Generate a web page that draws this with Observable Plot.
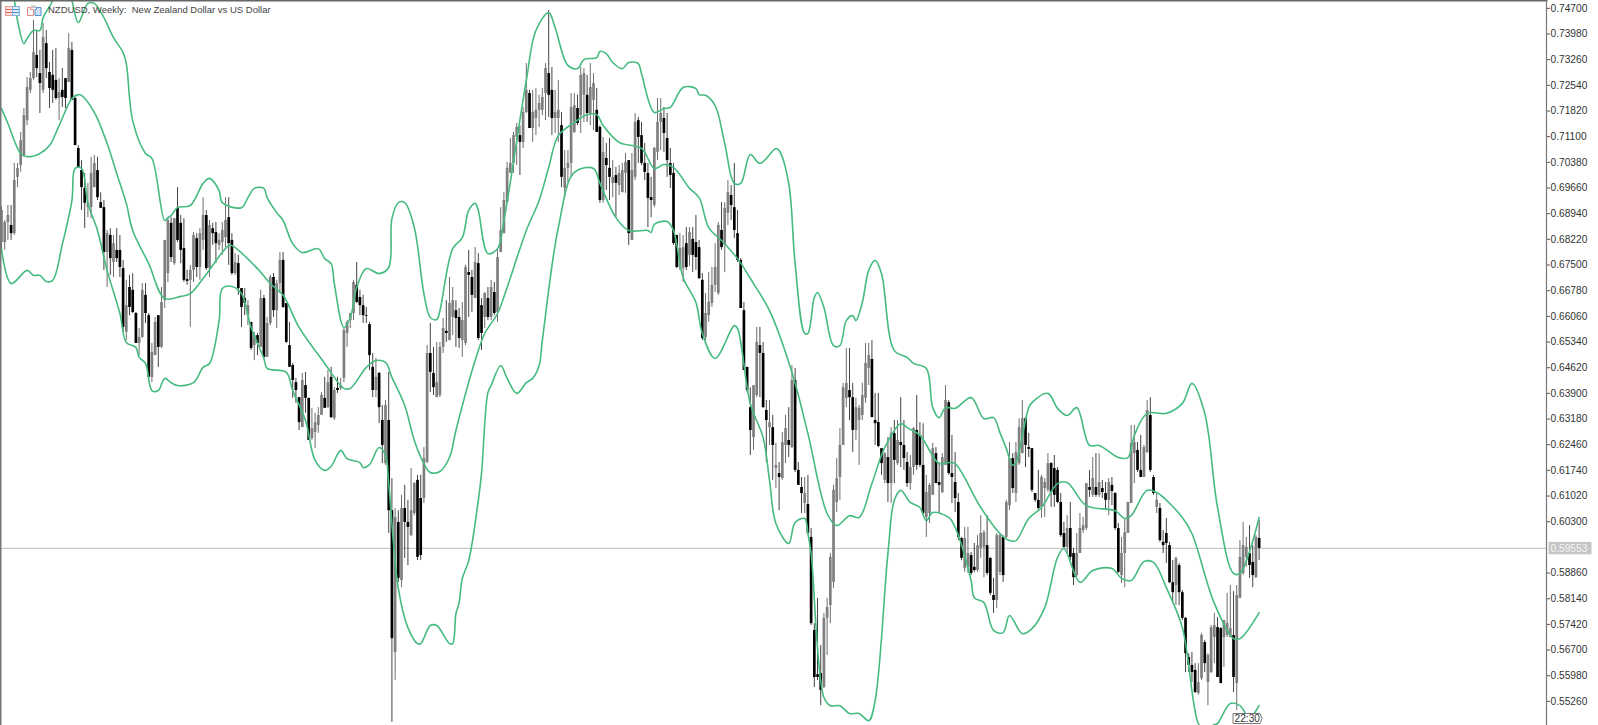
<!DOCTYPE html>
<html>
<head>
<meta charset="utf-8">
<script src="https://cdn.jsdelivr.net/npm/d3@7"></script>
<script src="https://cdn.jsdelivr.net/npm/@observablehq/plot@0.6"></script>
<style>
html,body{margin:0;padding:0;background:#fff;overflow:hidden}
#wrap{position:relative;width:1598px;height:725px}
#wrap svg{display:block}
</style>
</head>
<body>
<div id="wrap"></div>
<script>
// weekly prices in 1/10000 of a US dollar
const highs = [
6914,6875,6917,6917,7035,7035,7122,7189,7276,7290,
7436,7408,7352,7427,7408,7318,7352,7357,7273,7301,
7273,7399,7374,7220,7085,7043,7007,6979,7052,7057,
7052,6953,6931,6847,6852,6833,6852,6833,6763,6707,
6721,6726,6617,6572,6698,6698,6614,6530,6603,6608,
6687,6819,6883,6883,6880,6967,6889,6880,6735,6749,
6841,6838,6852,6939,6903,6875,6867,6869,6838,6869,
6939,6939,6838,6782,6777,6684,6684,6650,6589,6561,
6558,6679,6665,6603,6721,6726,6707,6785,6785,6642,
6589,6474,6432,6378,6446,6449,6376,6348,6334,6350,
6392,6435,6454,6463,6406,6435,6432,6572,6594,6614,
6707,6757,6679,6665,6631,6589,6502,6488,6449,6356,
6370,6449,6151,6067,6061,6104,6132,6090,6179,6140,
6160,6160,6238,6524,6586,6519,6533,6533,6600,6650,
6715,6687,6650,6628,6645,6749,6791,6735,6799,6782,
6656,6673,6687,6707,6701,6796,6911,6953,7038,7105,
7122,7147,7141,7192,7315,7240,7240,7245,7226,7245,
7315,7464,7304,7240,7268,7178,7071,7071,7231,7231,
7226,7304,7301,7282,7315,7287,7245,7141,7108,7091,
7105,7043,7024,7029,7035,7063,7043,7063,7175,7164,
7150,7091,7035,6996,7080,7217,7217,7192,7175,7077,
7035,6833,6838,6833,6855,6855,6855,6889,6819,6726,
6670,6729,6743,6810,6869,6925,6925,6987,6973,7035,
6903,6768,6645,6463,6406,6412,6575,6575,6533,6370,
6370,6328,6250,6196,6280,6328,6350,6468,6460,6196,
6154,6154,6160,6011,5744,5815,5683,5773,5815,5941,
6132,6207,6291,6418,6516,6516,6418,6376,6356,6418,
6530,6530,6538,6390,6390,6235,6224,6266,6294,6314,
6314,6378,6314,6224,6216,6294,6384,6308,6305,6160,
6137,6250,6238,6196,6221,6412,6370,6272,6224,6109,
5986,6014,6014,5944,5969,5991,6047,6005,6047,5930,
5871,5997,5997,5991,6090,6252,6221,6252,6319,6370,
6322,6278,6235,6109,6174,6160,6151,6221,6196,6216,
6182,6109,6028,6047,6084,5955,5997,6053,6042,6137,
6174,6210,6221,6221,6146,6140,6151,6154,6112,6025,
5986,6039,6084,6300,6300,6252,6272,6244,6370,6378,
6160,6109,6081,6005,6039,5972,5921,5930,5913,5837,
5761,5660,5663,5632,5632,5717,5697,5660,5739,5773,
5761,5733,5753,5829,5851,5834,5851,5977,6028,5986,
6019,5963,5991,6033];
const lows = [
6796,6791,6819,6819,6833,6967,7010,7052,7141,7231,
7268,7276,7175,7231,7273,7189,7203,7212,7155,7192,
7189,7262,7212,7085,7024,6903,6852,6883,6880,6967,
6931,6909,6735,6687,6721,6715,6757,6715,6561,6538,
6608,6614,6530,6496,6544,6586,6435,6420,6496,6463,
6516,6628,6701,6757,6749,6813,6754,6701,6693,6575,
6701,6715,6707,6791,6735,6715,6805,6754,6791,6777,
6799,6749,6721,6721,6665,6575,6608,6580,6510,6482,
6496,6519,6488,6491,6580,6603,6572,6670,6628,6530,
6463,6376,6362,6286,6294,6334,6258,6258,6235,6278,
6328,6348,6348,6319,6314,6390,6398,6420,6519,6572,
6594,6642,6608,6586,6586,6454,6378,6378,6305,6193,
6188,5997,5467,5585,5859,5845,5927,5907,5988,6047,
5921,5921,6081,6193,6392,6384,6378,6378,6502,6533,
6538,6552,6519,6516,6491,6524,6603,6617,6656,6538,
6510,6572,6594,6594,6608,6589,6785,6838,6925,7007,
7007,7029,7001,7077,7175,7133,7094,7113,7136,7169,
7155,7164,7113,7119,7094,6967,6939,6981,6996,7119,
7141,7119,7150,7150,7141,7127,7122,6923,6923,6959,
6931,6939,6883,6945,6953,6951,6805,6819,6987,7035,
7029,6987,6855,6883,6911,7043,7071,7066,6996,6965,
6805,6740,6735,6701,6735,6746,6729,6735,6709,6538,
6538,6589,6631,6673,6665,6791,6729,6861,6875,6824,
6757,6628,6454,6392,6216,6230,6378,6378,6348,6196,
6244,6146,6123,6061,6146,6193,6210,6235,6168,6132,
6053,6053,5991,5739,5565,5585,5514,5562,5655,5744,
5843,6056,6090,6244,6350,6314,6224,6258,6188,6314,
6362,6412,6322,6244,6238,6160,6137,6084,6081,6137,
6188,6182,6174,6126,6118,6160,6174,6182,6047,5986,
6025,6104,6137,6053,6109,6188,6160,6081,6056,5977,
5921,5888,5885,5879,5888,5888,5927,5873,5879,5823,
5773,5787,5879,5860,5983,6061,6109,6084,6188,6221,
6182,6210,6112,6084,6061,6039,6042,6112,6070,6070,
6081,5986,5955,5941,5921,5851,5873,5941,5997,6005,
6098,6098,6098,6098,6095,6061,6047,6075,6005,5885,
5857,5845,5997,6081,6137,6168,6154,6154,6221,6168,
6104,6053,5972,5941,5913,5857,5801,5795,5795,5753,
5607,5607,5579,5548,5543,5585,5607,5514,5604,5632,
5593,5576,5621,5705,5705,5551,5500,5815,5879,5902,
5871,5845,5871,5921];
const opens = [
6813,6813,6869,6861,6838,6996,7029,7057,7155,7240,
7273,7338,7287,7240,7371,7290,7282,7268,7217,7240,
7273,7262,7352,7217,7077,7015,6965,6911,6911,6967,
7015,6925,6911,6785,6833,6757,6791,6791,6740,6561,
6687,6679,6614,6530,6547,6665,6608,6435,6496,6608,
6519,6650,6726,6867,6754,6909,6867,6796,6709,6707,
6735,6824,6743,6819,6889,6740,6852,6841,6805,6813,
6827,6883,6819,6726,6754,6684,6656,6608,6589,6524,
6552,6519,6656,6491,6586,6715,6622,6698,6763,6642,
6524,6468,6420,6378,6294,6412,6376,6263,6280,6300,
6328,6376,6350,6435,6319,6404,6404,6432,6558,6594,
6614,6693,6659,6636,6608,6583,6463,6398,6446,6314,
6193,6314,6061,5663,6028,5865,6067,6028,5991,6053,
6146,6095,6095,6196,6502,6446,6378,6384,6519,6564,
6538,6603,6622,6603,6538,6530,6729,6715,6656,6754,
6636,6603,6656,6603,6673,6617,6785,6838,6925,7007,
7035,7108,7113,7094,7178,7231,7133,7161,7184,7184,
7231,7287,7240,7161,7161,7141,6965,7021,7035,7122,
7189,7169,7226,7226,7175,7212,7184,7136,6931,7049,
7021,6979,7001,6973,6953,7007,7043,6819,6996,7155,
7113,7035,7007,6939,6917,7066,7150,7161,7105,7035,
7007,6833,6743,6740,6810,6777,6822,6813,6799,6707,
6547,6608,6642,6693,6670,6847,6805,6895,6945,6911,
6838,6763,6622,6463,6350,6266,6384,6524,6502,6342,
6294,6294,6179,6165,6151,6244,6258,6238,6426,6174,
6126,6081,6078,5986,5725,5601,5604,5565,5759,5795,
5860,6084,6154,6244,6376,6398,6378,6286,6314,6328,
6376,6460,6485,6314,6308,6235,6146,6210,6137,6277,
6193,6252,6244,6196,6137,6182,6286,6272,6188,6042,
6053,6104,6221,6140,6112,6188,6364,6165,6140,6084,
5983,5899,5902,5935,5902,5893,5955,5958,5963,5927,
5823,5809,5888,5986,5986,6075,6207,6109,6193,6221,
6319,6238,6235,6109,6090,6070,6123,6118,6193,6179,
6174,6084,5997,5958,6011,5941,5879,5941,6005,6011,
6126,6104,6126,6104,6123,6109,6090,6132,6109,6011,
5879,5941,5997,6081,6221,6230,6174,6154,6224,6328,
6154,6070,6067,5972,5997,5963,5859,5851,5907,5831,
5759,5649,5627,5613,5548,5590,5691,5579,5607,5705,
5733,5730,5705,5711,5705,5711,5576,5815,5885,5930,
5941,5916,5873,5983];
const closes = [
6903,6869,6889,6838,6987,7021,7099,7169,7248,7273,
7346,7301,7259,7388,7301,7245,7240,7217,7234,7220,
7217,7357,7212,7085,7024,6967,6923,6923,7007,7035,
6939,6909,6785,6838,6768,6810,6768,6743,6575,6636,
6631,6617,6530,6547,6679,6614,6435,6505,6589,6519,
6645,6819,6875,6771,6880,6819,6791,6707,6704,6735,
6833,6743,6838,6889,6740,6861,6838,6810,6819,6847,
6875,6810,6726,6757,6684,6631,6642,6636,6516,6552,
6530,6656,6491,6586,6715,6622,6698,6763,6631,6533,
6463,6426,6398,6308,6426,6376,6258,6291,6308,6328,
6384,6348,6420,6322,6398,6398,6412,6566,6589,6614,
6701,6645,6636,6608,6606,6496,6398,6435,6350,6244,
6356,6061,5702,6042,5871,6067,6028,6014,6061,6137,
5930,5935,6207,6502,6449,6406,6420,6519,6572,6558,
6642,6650,6600,6544,6594,6743,6721,6665,6757,6544,
6558,6670,6603,6687,6614,6771,6847,6931,7021,7035,
7113,7136,7094,7178,7240,7133,7178,7184,7203,7220,
7301,7226,7161,7178,7184,6996,7021,7035,7192,7197,
7147,7282,7287,7175,7248,7259,7122,6931,7066,7029,
6996,6996,6979,7007,7015,7038,6838,7015,7150,7108,
7035,7010,6937,6931,7077,7150,7175,7119,7043,7001,
6810,6743,6796,6799,6743,6841,6777,6771,6712,6544,
6614,6645,6693,6743,6861,6799,6909,6953,6917,6847,
6763,6628,6454,6398,6286,6412,6533,6502,6350,6314,
6308,6244,6188,6154,6252,6291,6244,6426,6174,6132,
6109,6109,5997,5744,5593,5593,5557,5759,5789,5930,
6118,6151,6244,6406,6418,6378,6286,6350,6348,6384,
6474,6496,6322,6305,6241,6193,6221,6137,6277,6202,
6258,6244,6207,6137,6182,6291,6188,6188,6053,6112,
6132,6235,6137,6132,6210,6370,6165,6154,6095,5986,
5927,5983,5941,5885,5893,5963,5997,5999,5885,5829,
5809,5991,5991,5879,6084,6207,6123,6224,6294,6319,
6244,6233,6118,6090,6067,6154,6140,6193,6112,6104,
6084,5991,5958,6011,5930,5873,5941,6011,6019,6137,
6118,6151,6104,6140,6112,6090,6140,6115,6011,5888,
5941,5999,6084,6249,6252,6174,6154,6238,6342,6174,
6109,6090,5977,5963,5969,5859,5831,5927,5831,5759,
5660,5627,5607,5551,5579,5711,5632,5655,5733,5739,
5593,5576,5753,5745,5730,5593,5823,5930,5963,5958,
5907,5879,5986,5955];

// Bollinger bands, as [bar number, price] read at the bends of each line
const upperBand = [[3,7520],[4,7492],[5,7436],[7,7371],[8,7385],[10,7408],[12,7408],[13,7444],[16,7492],[19,7576],[22,7492],[24,7430],[27,7484],[29,7484],[32,7444],[35,7388],[38,7346],[39,7315],[41,7155],[45,7063],[47,7049],[51,6875],[52,6883],[53,6889],[55,6911],[59,6917],[63,6979],[65,6993],[68,6959],[69,6925],[75,6911],[77,6939],[79,6965],[82,6965],[83,6939],[86,6897],[88,6875],[91,6810],[94,6785],[99,6796],[101,6768],[103,6754],[104,6698],[107,6575],[109,6603],[111,6687],[114,6740],[118,6726],[121,6743],[122,6880],[124,6925],[126,6925],[129,6855],[132,6670],[134,6603],[136,6597],[137,6622],[141,6796],[144,6827],[146,6903],[148,6923],[149,6903],[152,6782],[155,6796],[157,6875],[164,7268],[167,7408],[171,7458],[173,7416],[177,7310],[180,7301],[182,7326],[186,7332],[187,7349],[189,7343],[191,7318],[194,7301],[196,7318],[199,7315],[200,7287],[204,7178],[207,7189],[209,7192],[213,7248],[217,7245],[218,7228],[220,7226],[223,7197],[226,7091],[229,6979],[231,6979],[234,7060],[237,7035],[242,7077],[243,7071],[246,6979],[248,6754],[251,6558],[252,6558],[254,6659],[255,6673],[257,6631],[260,6524],[262,6524],[264,6594],[266,6608],[267,6594],[269,6645],[271,6735],[273,6763],[275,6726],[279,6510],[283,6491],[285,6474],[289,6460],[291,6350],[293,6322],[295,6350],[298,6348],[303,6378],[307,6319],[310,6322],[312,6280],[314,6235],[316,6188],[317,6196],[321,6350],[322,6364],[327,6390],[330,6348],[333,6328],[336,6350],[340,6244],[343,6244],[349,6210],[352,6210],[354,6272],[358,6334],[364,6334],[369,6362],[372,6418],[376,6334],[380,6070],[385,5885],[387,5885],[393,6042]];
const middleBand = [[0,7189],[2,7147],[6,7063],[8,7054],[12,7063],[15,7085],[18,7141],[22,7217],[24,7228],[25,7226],[29,7178],[33,7091],[36,7007],[39,6923],[41,6847],[46,6754],[51,6656],[56,6662],[59,6670],[63,6712],[71,6805],[72,6805],[80,6740],[84,6698],[88,6665],[93,6575],[101,6474],[107,6404],[109,6404],[114,6463],[117,6482],[120,6477],[122,6435],[126,6356],[129,6258],[132,6193],[134,6168],[137,6171],[140,6210],[142,6286],[148,6482],[151,6558],[155,6614],[158,6687],[164,6847],[168,6931],[171,7024],[174,7113],[179,7150],[183,7172],[186,7172],[188,7141],[193,7094],[200,7077],[204,7021],[207,7032],[210,7024],[215,6965],[218,6939],[221,6855],[225,6819],[230,6768],[235,6698],[240,6622],[247,6449],[252,6277],[258,6053],[261,6019],[265,6047],[268,6042],[272,6137],[276,6238],[281,6305],[283,6294],[287,6272],[293,6193],[296,6196],[298,6193],[306,6070],[312,5997],[315,5977],[317,5977],[321,6039],[325,6070],[330,6137],[333,6140],[339,6075],[348,6061],[351,6039],[353,6047],[358,6118],[361,6112],[369,6042],[372,5997],[379,5801],[385,5702],[387,5702],[393,5775]];
const lowerBand = [[0,6796],[3,6698],[8,6735],[10,6721],[12,6721],[14,6704],[16,6707],[19,6808],[22,6931],[23,7021],[25,7021],[27,6923],[30,6847],[33,6735],[37,6614],[39,6533],[42,6519],[43,6491],[45,6474],[47,6398],[49,6398],[51,6432],[53,6420],[55,6412],[60,6420],[63,6463],[65,6474],[68,6594],[69,6684],[72,6690],[75,6670],[78,6575],[82,6488],[83,6460],[89,6449],[91,6398],[95,6314],[98,6202],[101,6174],[103,6185],[106,6230],[108,6207],[112,6196],[113,6182],[115,6190],[118,6238],[120,6216],[121,6137],[124,5843],[127,5733],[130,5688],[131,5688],[134,5739],[136,5739],[140,5688],[141,5688],[142,5772],[143,5803],[144,5871],[146,5921],[149,6090],[150,6165],[152,6392],[153,6412],[156,6468],[158,6432],[161,6390],[164,6420],[166,6432],[168,6468],[169,6538],[174,6855],[179,7010],[185,7021],[187,6979],[192,6883],[196,6847],[202,6847],[203,6841],[204,6864],[208,6872],[210,6847],[213,6715],[217,6645],[219,6558],[223,6488],[229,6580],[230,6572],[234,6361],[238,6266],[240,6146],[242,6025],[246,5969],[248,6028],[251,6039],[252,5997],[253,5941],[257,5537],[259,5514],[262,5514],[265,5492],[268,5492],[271,5472],[273,5528],[277,5941],[279,6090],[281,6118],[284,6084],[287,6070],[289,6033],[291,6056],[296,6042],[298,6014],[303,5865],[304,5817],[307,5803],[310,5725],[313,5719],[315,5767],[319,5716],[322,5730],[326,5789],[330,5930],[332,5955],[337,5860],[341,5893],[347,5899],[350,5871],[353,5865],[357,5918],[360,5916],[364,5845],[369,5733],[374,5464],[376,5444],[379,5461],[380,5464],[384,5520],[387,5514],[390,5478],[392,5500],[393,5514]];

const priceTicks = [0.747,0.7398,0.7326,0.7254,0.7182,0.711,0.7038,0.6966,0.6894,0.6822,0.675,0.6678,0.6606,0.6534,0.6462,0.639,0.6318,0.6246,0.6174,0.6102,0.603,0.5886,0.5814,0.5742,0.567,0.5598,0.5526];
const lastPrice = 0.59553;
const titleText = "NZDUSD, Weekly:\u00A0\u00A0New Zealand Dollar vs US Dollar";

const bars = closes.map((c, i) => ({
  i, open: opens[i] / 1e4, close: c / 1e4, high: highs[i] / 1e4, low: lows[i] / 1e4, up: c >= opens[i]
}));
const band = rows => rows.map(([i, p]) => ({i, price: p / 1e4}));
const green = "#45bb80";
const font = "'Liberation Sans', Arial, sans-serif";

const chart = Plot.plot({
  width: 1598, height: 725,
  marginTop: 0, marginBottom: 0, marginLeft: 0, marginRight: 52,
  style: {background: "#fff", fontFamily: font, overflow: "hidden"},
  x: {domain: [-0.3125, 482.8], axis: null},
  y: {domain: [0.54584, 0.7492], axis: null},
  marks: [
    Plot.ruleY([lastPrice], {stroke: "#c9c9c9", strokeWidth: 1.2}),
    Plot.ruleX(bars, {x: "i", y1: "low", y2: "high", stroke: d => d.up ? "#6e6e6e" : "#444", strokeWidth: 1}),
    Plot.ruleX(bars.filter(d => d.up), {x: "i", y1: "open", y2: "close", stroke: "#7f7f7f", strokeWidth: 2.7}),
    Plot.ruleX(bars.filter(d => !d.up), {x: "i", y1: "open", y2: "close", stroke: "#000", strokeWidth: 2.7}),
    ...[upperBand, middleBand, lowerBand].map(b =>
      Plot.line(band(b), {x: "i", y: "price", stroke: green, strokeWidth: 1.6, curve: "catmull-rom", clip: true})),
    Plot.frame({anchor: "left", stroke: "#777", strokeWidth: 2}),
    Plot.frame({anchor: "top", stroke: "#666", strokeWidth: 2}),
    Plot.frame({anchor: "right", stroke: "#777", strokeWidth: 1.2}),
    Plot.axisY(priceTicks, {anchor: "right", label: null, tickSize: 3, tickPadding: 1, tickFormat: d3.format(".5f"), fontSize: 10.2, color: "#333", stroke: "#555"}),
    Plot.text([titleText], {frameAnchor: "top-left", dx: 47.5, dy: 6, textAnchor: "start", fontSize: 9.5, fill: "#444"})
  ]
});
const wrap = document.getElementById("wrap");
wrap.appendChild(chart);

// price tag, time tag and the two toolbar glyphs sit over the plot
const yPx = chart.scale("y").apply(lastPrice);
const xTag = chart.scale("x").apply(385);
const NS = "http://www.w3.org/2000/svg";
const overlay = document.createElementNS(NS, "svg");
overlay.setAttribute("width", 1598); overlay.setAttribute("height", 725);
overlay.style.cssText = "position:absolute;left:0;top:0;pointer-events:none";
overlay.innerHTML = `
  <rect x="1548.5" y="${yPx - 6}" width="43" height="12.5" fill="#c6c6c6"/>
  <text x="1550.5" y="${yPx + 3.7}" font-family="${font.replace(/'/g,"")}" font-size="10.2" fill="#f4f4f4">${lastPrice.toFixed(5)}</text>
  <path d="M${xTag} 713.5H${xTag + 27}l2 5l-2 5H${xTag}Z" fill="#fff" stroke="#777"/>
  <text x="${xTag + 1.5}" y="722" font-family="${font.replace(/'/g,"")}" font-size="10.2" fill="#333">22:30</text>
  <g fill="none" stroke-width="1">
    <rect x="5.5" y="6.5" width="7" height="9" fill="#fbe3e0" stroke="#ec9a93"/>
    <rect x="12.5" y="6.5" width="7" height="9" fill="#dcebf8" stroke="#7fb2e0"/>
    <path d="M6 9.5h6M6 12.5h6" stroke="#e2655c"/>
    <path d="M13 9.5h6M13 12.5h6" stroke="#4f93d2"/>
    <path d="M27.5 7.5h3v2h3v6h-6z" fill="#fff" stroke="#e88a82"/>
    <path d="M36.5 7.5h4.5v8h-6v-6h1.5z" fill="#cfe2f5" stroke="#4f93d2"/>
    <rect x="31" y="5.5" width="5" height="2.5" fill="#c4c4c4" stroke="none"/>
  </g>`;
wrap.appendChild(overlay);
</script>
</body>
</html>
